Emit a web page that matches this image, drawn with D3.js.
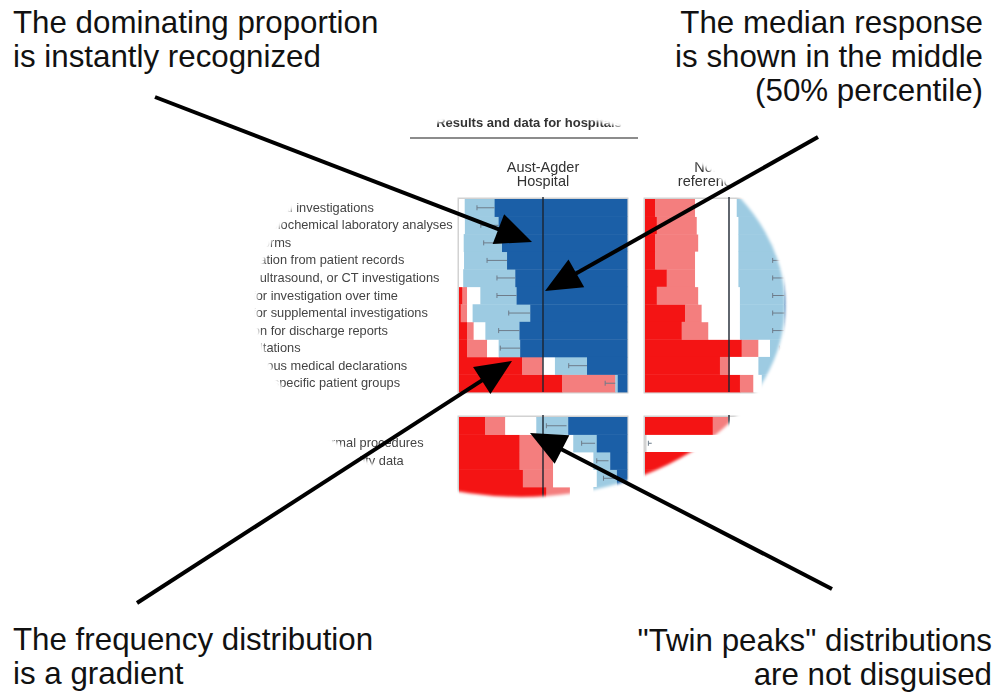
<!DOCTYPE html>
<html>
<head>
<meta charset="utf-8">
<script src="https://cdn.jsdelivr.net/npm/d3@7"></script>
<style>
  body { margin: 0; background: #fff; }
  svg { display: block; font-family: "Liberation Sans", Arial, sans-serif; }
</style>
</head>
<body>
<div id="chart"></div>
<script>

// row labels
const upperItems = [
  "Radiological investigations",
  "Routine biochemical laboratory analyses",
  "Order forms",
  "Information from patient records",
  "X-ray, ultrasound, or CT investigations",
  "Plan for investigation over time",
  "Plan for supplemental investigations",
  "Opinion for discharge reports",
  "Consultations",
  "For various medical declarations",
  "Care for specific patient groups"
];
const lowerItems = [
  "Research",
  "Compliance with formal procedures",
  "Reporting of clinical quality data",
  "Teaching",
  "Other"
];

const chartTitle = "Results and data for hospitals";
const agderHeader = ["Aust-Agder", "Hospital"];
const refHeader = ["Norwegian", "reference group"];

// Aust-Agder, upper block (percent of answers)
const agderVeryPoor = [0, 0, 0, 0, 0, 2, 1, 4.8, 4.8, 37.5, 61.3];
const agderPoor     = [0, 0, 0, 0, 0, 2.8, 3.8, 3.9, 11.9, 12.3, 31.7];
const agderNeutral  = [3.4, 3.5, 2.8, 3, 2.5, 7.9, 3.3, 7, 6.9, 7.3, 0];
const agderGood     = [17.8, 20.1, 22.8, 25.6, 31, 21.6, 34.3, 20.3, 12.8, 19.1, 1.5];
const agderVeryGood = [78.8, 76.4, 74.4, 71.4, 66.5, 65.7, 57.6, 64, 63.6, 23.8, 5.5];
const agderCiLow  = [10.7, 13, 14.7, 16.7, 22.6, 22.6, 29.6, 23.6, 24.6, 65.3, 87];
const agderCiHigh = [21.2, 23.6, 25.6, 28.6, 33.5, 34.3, 42.4, 36, 36.4, 76.2, 93];

// reference hospitals, upper block
const refVeryPoor = [6, 7, 6, 6, 12.9, 7, 23.8, 21.8, 57.5, 44.6, 56.5];
const refPoor     = [23.8, 23.8, 25.7, 23.8, 16.9, 24.7, 9.9, 15.9, 10, 6, 8];
const refNeutral  = [24.8, 24.8, 23.9, 25.8, 25.8, 24.8, 22.8, 18.8, 6.9, 16.9, 5];
const refGood     = [30.4, 29.4, 29.4, 27.4, 27.4, 26.5, 26.5, 26.5, 10.6, 17.5, 15.5];
const refVeryGood = [15, 15, 15, 17, 17, 17, 17, 17, 15, 15, 15];
const refCiLow  = [78, 78, 77, 76, 76, 76, 76, 76, 80, 80, 80];
const refCiHigh = [85, 85, 85, 83, 83, 83.3, 83.3, 83, 85, 85, 85];

// lower block
const agderLowVeryPoor = [15.5, 36, 36, 38, 52];
const agderLowPoor     = [12, 20, 20, 18, 14];
const agderLowNeutral  = [18.5, 12, 24, 26, 14];
const agderLowGood     = [19, 14, 10, 12, 12];
const agderLowVeryGood = [35, 18, 10, 6, 8];
const agderLowCiLow  = [52, 73, 82, 86, 88];
const agderLowCiHigh = [64, 81, 89, 93, 95];

const refLowVeryPoor = [40.3, 0, 30, 40, 45];
const refLowPoor     = [9.3, 0, 15, 15, 15];
const refLowNeutral  = [15, 0, 20, 20, 15];
const refLowGood     = [20, 0, 20, 15, 15];
const refLowVeryGood = [15.4, 0, 15, 10, 10];
const refLowCiLow  = [80, 2, 80, 85, 85];
const refLowCiHigh = [85, 4, 85, 90, 90];

const keys = ["veryPoor", "poor", "neutral", "good", "veryGood"];
const colors = {
  veryPoor: "#f41414",
  poor: "#f47e7e",
  neutral: "#ffffff",
  good: "#9dcbe2",
  veryGood: "#1b5fa7"
};

// annotations round the chart
const notes = [
  {lines: ["The dominating proportion", "is instantly recognized"], x: 13, y: 33, anchor: "start",
   from: [155, 97], to: [532, 242]},
  {lines: ["The median response", "is shown in the middle", "(50% percentile)"], x: 983, y: 33, anchor: "end",
   from: [818, 137], to: [545, 291]},
  {lines: ["The frequency distribution", "is a gradient"], x: 13, y: 650, anchor: "start",
   from: [137, 603], to: [512, 361]},
  {lines: ["\"Twin peaks\" distributions", "are not disguised"], x: 992, y: 651, anchor: "end",
   from: [832, 589], to: [530, 433]}
];

const width = 1000, height = 696;

const svg = d3.select("#chart").append("svg")
    .attr("width", width)
    .attr("height", height);

svg.append("rect").attr("width", width).attr("height", height).attr("fill", "#fff");

// soft oval lens that crops the chart
const defs = svg.append("defs");
defs.append("filter").attr("id", "soft")
    .attr("x", "-10%").attr("y", "-10%").attr("width", "120%").attr("height", "120%")
  .append("feGaussianBlur").attr("stdDeviation", 1.5);
defs.append("mask").attr("id", "lens")
    .attr("maskUnits", "userSpaceOnUse")
    .attr("x", 0).attr("y", 0).attr("width", width).attr("height", height)
  .append("ellipse")
    .attr("cx", 521).attr("cy", 305).attr("rx", 264).attr("ry", 192)
    .attr("fill", "#fff")
    .attr("filter", "url(#soft)");

const g = svg.append("g").attr("mask", "url(#lens)");

// scales
const x1 = d3.scaleLinear().domain([0, 100]).range([459, 627]);
const x2 = d3.scaleLinear().domain([0, 100]).range([645, 813]);
const yUpper = d3.scaleBand().domain(upperItems).range([199, 392]);
const yLower = d3.scaleBand().domain(lowerItems).range([417, 504.5]);

// title and rule
g.append("text")
    .attr("x", 529).attr("y", 127)
    .attr("text-anchor", "middle")
    .style("font-size", "13px").style("font-weight", "bold").style("fill", "#333")
    .text(chartTitle);
g.append("line")
    .attr("x1", 410).attr("x2", 638).attr("y1", 138).attr("y2", 138)
    .attr("stroke", "#666").attr("stroke-width", 1.5);

// column headers
function header(x, lines) {
  g.append("text")
      .attr("x", x(50)).attr("y", 172)
      .attr("text-anchor", "middle")
      .style("font-size", "14.5px").style("fill", "#333")
    .selectAll("tspan").data(lines).enter().append("tspan")
      .attr("x", x(50))
      .attr("dy", (d, i) => i === 0 ? 0 : 14)
      .text(d => d);
}
header(x1, agderHeader);
header(x2, refHeader);

// row labels
function labels(y, items) {
  g.append("g").selectAll("text")
      .data(items).enter().append("text")
      .attr("x", 223)
      .attr("y", d => y(d) + y.bandwidth() / 2 + 4)
      .style("font-size", "12.8px").style("fill", "#444")
      .text(d => d);
}
labels(yUpper, upperItems);
labels(yLower, lowerItems);

function drawPanel(x, y, items, series, ciLow, ciHigh) {
  const table = items.map((item, i) => {
    const row = {item: item};
    keys.forEach((k, j) => { row[k] = series[j][i]; });
    return row;
  });
  const stacked = d3.stack().keys(keys)(table);
  const [top, bottom] = y.range();

  const p = g.append("g");
  p.append("rect")
      .attr("x", x(0)).attr("y", top)
      .attr("width", x(100) - x(0)).attr("height", bottom - top)
      .attr("fill", "#fff").attr("stroke", "#d2d2d2").attr("stroke-width", 3);

  p.selectAll("g.layer")
      .data(stacked).enter().append("g")
      .attr("class", "layer")
      .attr("fill", d => colors[d.key])
    .selectAll("rect")
      .data(d => d).enter().append("rect")
      .attr("x", d => x(d[0]))
      .attr("y", d => y(d.data.item))
      .attr("width", d => Math.max(0, x(d[1]) - x(d[0]) + (d[1] > d[0] ? 0.4 : 0)))
      .attr("height", y.bandwidth() + 0.4);

  // whiskers
  const wh = p.append("g").attr("stroke", "#6e7c8a").attr("stroke-width", 1);
  items.forEach((item, i) => {
    const cy = y(item) + y.bandwidth() / 2;
    wh.append("line")
        .attr("x1", x(ciLow[i])).attr("x2", x(ciHigh[i]))
        .attr("y1", cy).attr("y2", cy);
    wh.append("line")
        .attr("x1", x(ciLow[i])).attr("x2", x(ciLow[i]))
        .attr("y1", cy - 2.5).attr("y2", cy + 2.5);
  });

  // median
  p.append("line")
      .attr("x1", x(50)).attr("x2", x(50))
      .attr("y1", top - 2).attr("y2", bottom)
      .attr("stroke", "#1c2430").attr("stroke-width", 1.4);
}

drawPanel(x1, yUpper, upperItems,
  [agderVeryPoor, agderPoor, agderNeutral, agderGood, agderVeryGood], agderCiLow, agderCiHigh);
drawPanel(x2, yUpper, upperItems,
  [refVeryPoor, refPoor, refNeutral, refGood, refVeryGood], refCiLow, refCiHigh);
drawPanel(x1, yLower, lowerItems,
  [agderLowVeryPoor, agderLowPoor, agderLowNeutral, agderLowGood, agderLowVeryGood], agderLowCiLow, agderLowCiHigh);
drawPanel(x2, yLower, lowerItems,
  [refLowVeryPoor, refLowPoor, refLowNeutral, refLowGood, refLowVeryGood], refLowCiLow, refLowCiHigh);

// annotation texts and arrows (outside the lens)
const ann = svg.append("g");
notes.forEach(n => {
  ann.append("text")
      .attr("x", n.x).attr("y", n.y)
      .attr("text-anchor", n.anchor)
      .style("font-size", "31.3px").style("fill", "#111")
    .selectAll("tspan").data(n.lines).enter().append("tspan")
      .attr("x", n.x)
      .attr("dy", (d, i) => i === 0 ? 0 : 34)
      .text(d => d);

  const [xa, ya] = n.from, [xb, yb] = n.to;
  const len = Math.hypot(xb - xa, yb - ya);
  const ux = (xb - xa) / len, uy = (yb - ya) / len;
  const headLen = 36, headHalf = 16;
  const bx = xb - ux * headLen, by = yb - uy * headLen;
  ann.append("line")
      .attr("x1", xa).attr("y1", ya)
      .attr("x2", bx + ux * 4).attr("y2", by + uy * 4)
      .attr("stroke", "#000").attr("stroke-width", 4);
  ann.append("path")
      .attr("d", d3.line()([[xb, yb], [bx - uy * headHalf, by + ux * headHalf], [bx + uy * headHalf, by - ux * headHalf]]) + "Z")
      .attr("fill", "#000");
});
</script>
</body>
</html>
